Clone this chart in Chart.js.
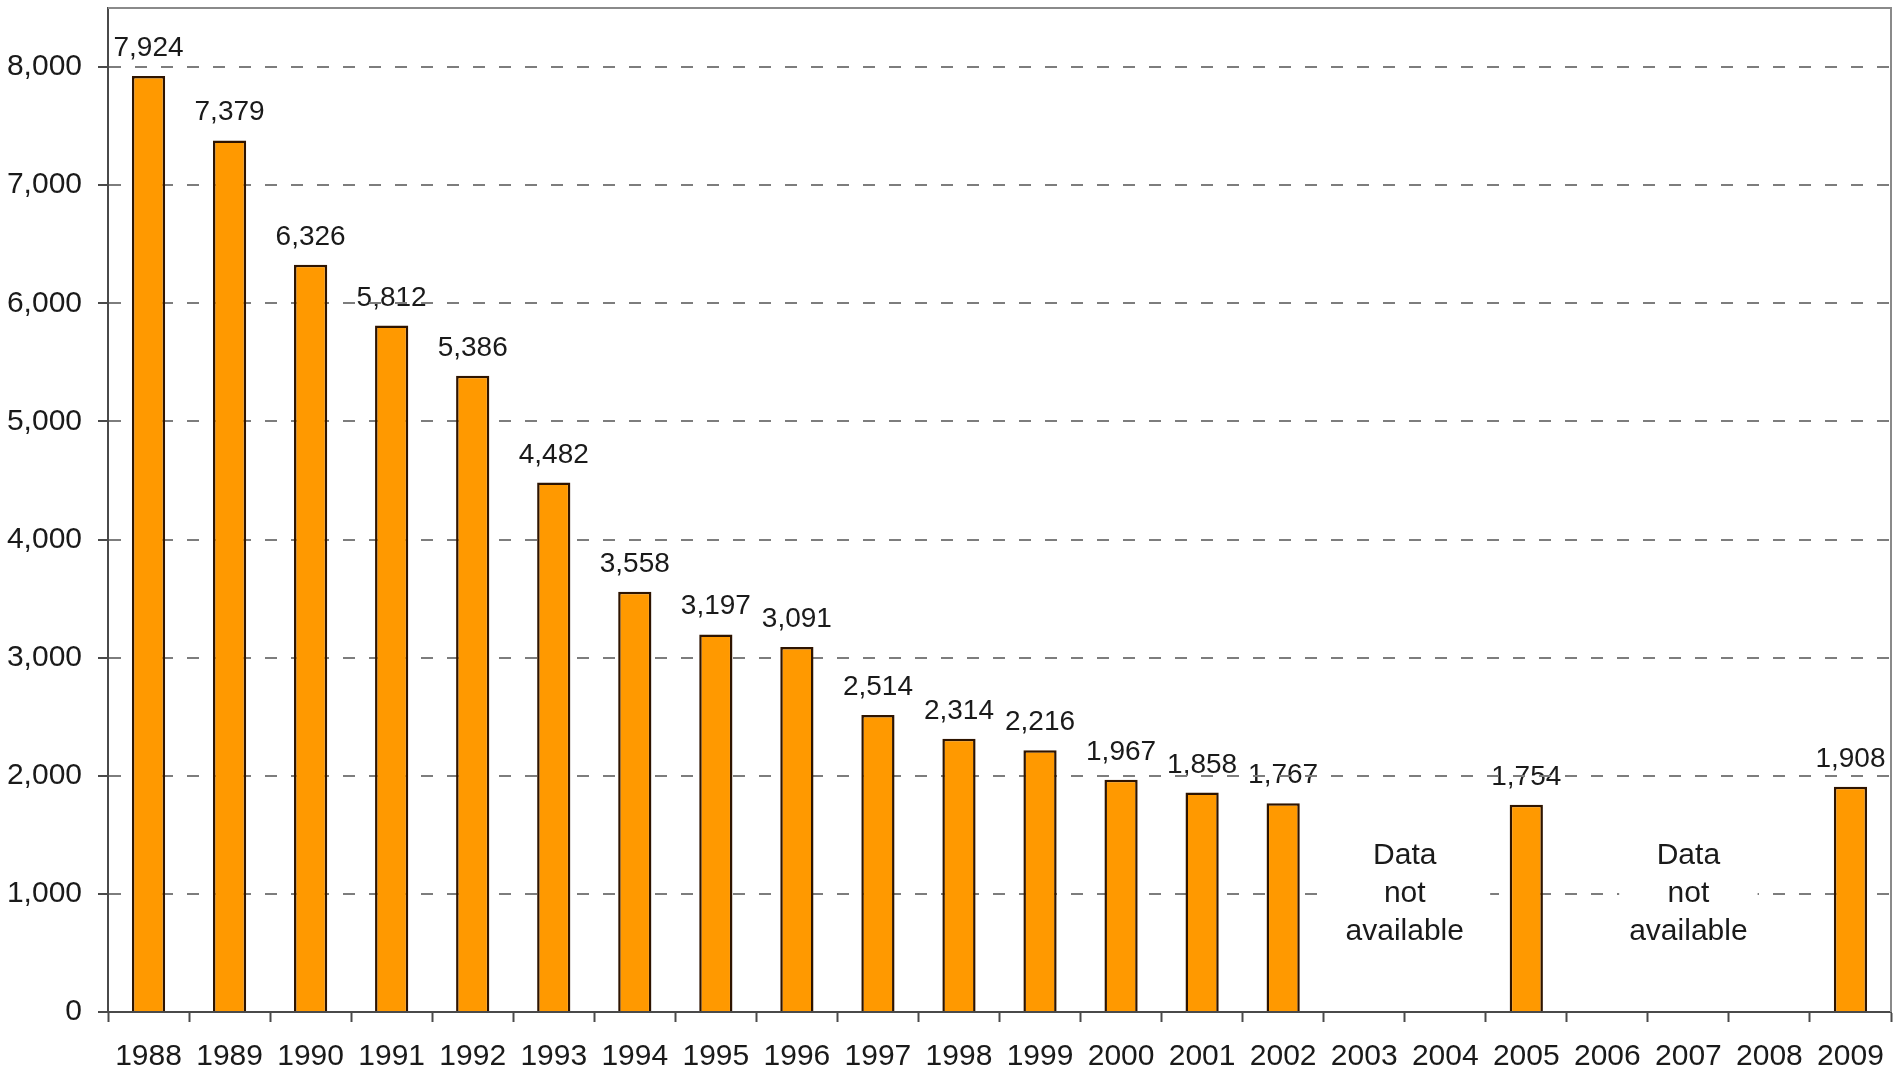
<!DOCTYPE html>
<html>
<head>
<meta charset="utf-8">
<script src="https://cdn.jsdelivr.net/npm/chart.js@4/dist/chart.umd.min.js"></script>
<style>
  html, body { margin: 0; padding: 0; background: #ffffff; }
  #c { display: block; }
</style>
</head>
<body>
<canvas id="c" width="1895" height="1072"></canvas>
<script>
// Annual counts by year; null marks years with no reported figure
const years = ['1988', '1989', '1990', '1991', '1992', '1993', '1994', '1995', '1996', '1997', '1998',
               '1999', '2000', '2001', '2002', '2003', '2004', '2005', '2006', '2007', '2008', '2009'];
const counts = [7924, 7379, 6326, 5812, 5386, 4482, 3558, 3197, 3091, 2514, 2314,
                2216, 1967, 1858, 1767, null, null, 1754, null, null, null, 1908];
const yTickValues = [0, 1000, 2000, 3000, 4000, 5000, 6000, 7000, 8000];
const yMax = 8500;
// Gaps in the series, annotated with a note (first year, last year, note lines)
const gapNotes = [
  { from: '2003', to: '2004', lines: ['Data', 'not', 'available'] },
  { from: '2007', to: '2007', lines: ['Data', 'not', 'available'] }
];

const FONT = '"Liberation Sans", Arial, Helvetica, sans-serif';
const fmt = v => v.toLocaleString('en-US');

// Value labels above each bar, painted before the scales so the dashed grid runs over them
const valueLabels = {
  id: 'valueLabels',
  beforeDraw(chart) {
    const ctx = chart.ctx;
    const meta = chart.getDatasetMeta(0);
    ctx.save();
    ctx.font = '28px ' + FONT;
    ctx.fillStyle = '#1a1a1a';
    ctx.textAlign = 'center';
    ctx.textBaseline = 'alphabetic';
    meta.data.forEach((bar, i) => {
      const v = counts[i];
      if (v === null) return;
      ctx.fillText(fmt(v), bar.x, bar.y - 20);
    });
    ctx.restore();
  }
};

// Frame on the top and right of the plot area, and the "no data" notes
const frameAndNotes = {
  id: 'frameAndNotes',
  afterDatasetsDraw(chart) {
    const ctx = chart.ctx;
    const a = chart.chartArea;
    const xs = chart.scales.x, ys = chart.scales.y;
    ctx.save();
    ctx.strokeStyle = '#8a8a8a';
    ctx.lineWidth = 2;
    ctx.beginPath();
    ctx.moveTo(a.left, a.top);
    ctx.lineTo(a.right, a.top);
    ctx.lineTo(a.right, a.bottom);
    ctx.stroke();

    ctx.font = '30px ' + FONT;
    ctx.textAlign = 'center';
    ctx.textBaseline = 'middle';
    const lineGap = 38;
    gapNotes.forEach(n => {
      const x0 = xs.getPixelForValue(years.indexOf(n.from));
      const x1 = xs.getPixelForValue(years.indexOf(n.to));
      const x = (x0 + x1) / 2;
      const yc = ys.getPixelForValue(1000);
      const w = Math.max(...n.lines.map(t => ctx.measureText(t).width)) + 20 + (x1 - x0) * 0.4;
      const h = lineGap * n.lines.length;
      ctx.fillStyle = '#ffffff';
      ctx.fillRect(x - w / 2, yc - h / 2, w, h);
      ctx.fillStyle = '#1a1a1a';
      n.lines.forEach((t, k) => {
        ctx.fillText(t, x, yc + (k - (n.lines.length - 1) / 2) * lineGap);
      });
    });
    ctx.restore();
  }
};

new Chart(document.getElementById('c'), {
  type: 'bar',
  data: {
    labels: years,
    datasets: [{
      data: counts,
      backgroundColor: '#FF9900',
      borderColor: '#2e1400',
      borderWidth: 2.5,
      borderSkipped: 'bottom',
      barPercentage: 0.41,
      categoryPercentage: 1.0
    }]
  },
  options: {
    responsive: false,
    animation: false,
    devicePixelRatio: 1,
    layout: { padding: { top: 8, right: 4, left: 0, bottom: 0 } },
    plugins: { legend: { display: false }, tooltip: { enabled: false } },
    scales: {
      x: {
        offset: true,
        grid: {
          offset: true,
          drawOnChartArea: false,
          drawTicks: true,
          tickLength: 10,
          tickColor: '#4a4a4a',
          tickWidth: 2
        },
        border: { color: '#4a4a4a', width: 2 },
        ticks: {
          autoSkip: false,
          maxRotation: 0,
          minRotation: 0,
          padding: 17,
          color: '#1a1a1a',
          font: { family: FONT, size: 30 }
        },
        afterFit(scale) {
          scale.height = 60;
          scale.paddingLeft = 0;
          scale.paddingRight = 0;
        }
      },
      y: {
        min: 0,
        max: yMax,
        afterBuildTicks(scale) {
          scale.ticks = yTickValues.map(v => ({ value: v }));
        },
        grid: {
          color: '#7d7d7d',
          lineWidth: 2,
          drawTicks: true,
          tickLength: 10,
          tickColor: '#4a4a4a',
          tickWidth: 2,
          tickBorderDash: []
        },
        border: { color: '#4a4a4a', width: 2, dash: [12, 14] },
        ticks: {
          padding: 16,
          color: '#1a1a1a',
          font: { family: FONT, size: 30 },
          callback: v => fmt(v)
        },
        afterFit(scale) {
          scale.width = 108;
          scale.paddingTop = 0;
          scale.paddingBottom = 0;
        }
      }
    }
  },
  plugins: [valueLabels, frameAndNotes]
});
</script>
</body>
</html>
